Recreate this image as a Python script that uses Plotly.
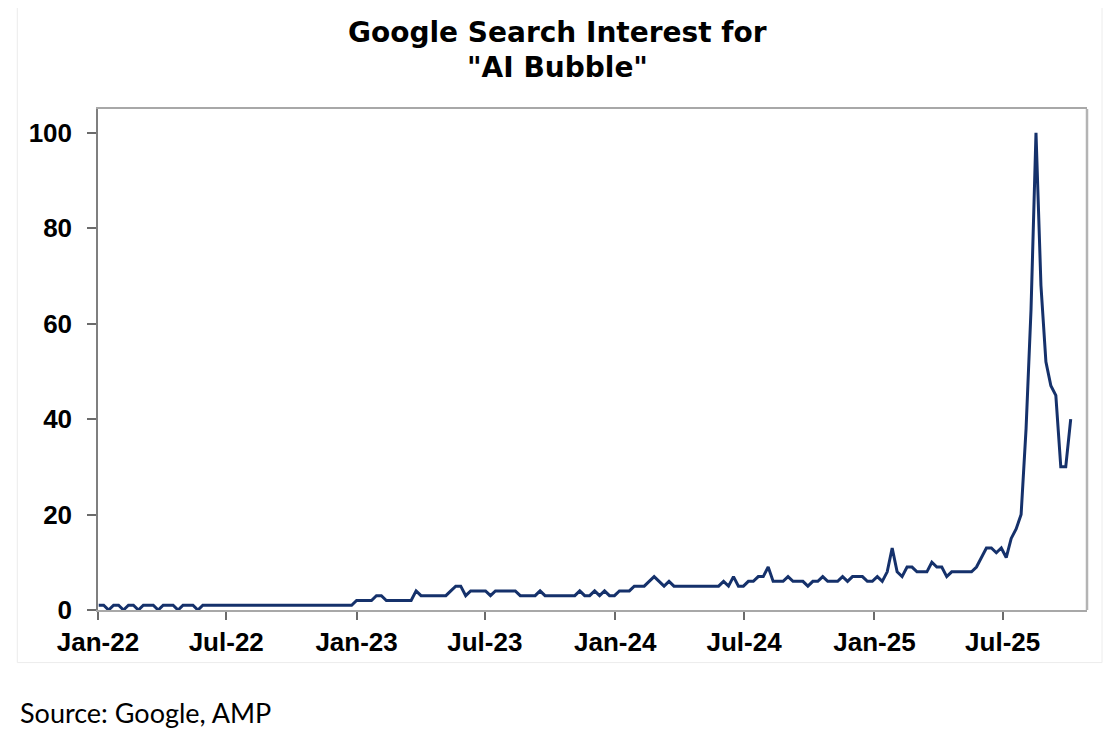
import pandas as pd
import plotly.graph_objects as go

# Weekly Google Trends index for "AI bubble", weeks starting Sunday 2022-01-02
start_week = "2022-01-02"

interest_2022_h1 = [1, 1, 0, 1, 1, 0, 1, 1, 0, 1, 1, 1, 0, 1, 1, 1, 0, 1, 1, 1, 0, 1, 1, 1, 1, 1]
interest_2022_h2 = [1, 1, 1, 1, 1, 1, 1, 1, 1, 1, 1, 1, 1, 1, 1, 1, 1, 1, 1, 1, 1, 1, 1, 1, 1, 1]
interest_2023_h1 = [2, 2, 2, 2, 3, 3, 2, 2, 2, 2, 2, 2, 4, 3, 3, 3, 3, 3, 3, 4, 5, 5, 3, 4, 4, 4]
interest_2023_h2 = [4, 3, 4, 4, 4, 4, 4, 3, 3, 3, 3, 4, 3, 3, 3, 3, 3, 3, 3, 4, 3, 3, 4, 3, 4, 3]
interest_2024_h1 = [3, 4, 4, 4, 5, 5, 5, 6, 7, 6, 5, 6, 5, 5, 5, 5, 5, 5, 5, 5, 5, 5, 6, 5, 7, 5]
interest_2024_h2 = [5, 6, 6, 7, 7, 9, 6, 6, 6, 7, 6, 6, 6, 5, 6, 6, 7, 6, 6, 6, 7, 6, 7, 7, 7, 6]
interest_2025 = [6, 7, 6, 8, 13, 8, 7, 9, 9, 8, 8, 8, 10, 9, 9, 7, 8, 8, 8, 8, 8,
                 9, 11, 13, 13, 12, 13, 11, 15, 17, 20, 38, 63, 100, 68, 52, 47, 45, 30, 30, 40]

interest = (interest_2022_h1 + interest_2022_h2 + interest_2023_h1 + interest_2023_h2
            + interest_2024_h1 + interest_2024_h2 + interest_2025)
weeks = pd.date_range(start_week, periods=len(interest), freq="7D")

tick_dates = ["2022-01-01", "2022-07-01", "2023-01-01", "2023-07-01",
              "2024-01-01", "2024-07-01", "2025-01-01", "2025-07-01"]
tick_labels = ["Jan-22", "Jul-22", "Jan-23", "Jul-23", "Jan-24", "Jul-24", "Jan-25", "Jul-25"]

title_lines = ["Google Search Interest for", '"AI Bubble"']
source_note = "Source: Google, AMP"

LINE = "#15316b"
AXIS_FONT = dict(family="Arial, Liberation Sans, sans-serif", size=26, color="#000000", weight="bold")
TITLE_FONT = dict(family="DejaVu Sans, Arial, sans-serif", size=28, color="#000000", weight="bold")

fig = go.Figure()
fig.add_trace(go.Scatter(
    x=weeks, y=interest, mode="lines",
    line=dict(color=LINE, width=3),
    hoverinfo="x+y", showlegend=False,
))

# the page body adds an 8px margin, so the figure is a bit smaller than the window
fig.update_layout(
    width=1110, height=733,
    margin=dict(l=90, r=31, t=101, b=131),
    paper_bgcolor="white", plot_bgcolor="white",
    xaxis=dict(
        type="date",
        range=["2022-01-01", "2025-10-28"],
        tickvals=tick_dates, ticktext=tick_labels,
        ticks="outside", ticklen=8, tickwidth=1.5, tickcolor="#6b6b6b",
        showline=True, linecolor="#a8a8a8", linewidth=2, mirror=True,
        showgrid=False, zeroline=False,
        tickfont=AXIS_FONT,
    ),
    yaxis=dict(
        range=[0, 105],
        tickvals=[0, 20, 40, 60, 80, 100],
        ticks="outside", ticklen=9, tickwidth=1.5, tickcolor="#6b6b6b",
        showline=True, linecolor="#7f7f7f", linewidth=1.5,
        showgrid=False, zeroline=False,
        tickfont=AXIS_FONT, ticklabelstandoff=10,
    ),
)

# title, two centred lines
for text, ypos in zip(title_lines, [1.1518, 1.0829]):
    fig.add_annotation(
        text=text, xref="paper", yref="paper", x=0.465, y=ypos,
        xanchor="center", yanchor="middle", showarrow=False, font=TITLE_FONT,
    )

# right border of the plot frame, lighter than the left axis
fig.add_shape(type="line", xref="x domain", yref="y domain",
              x0=1, x1=1, y0=0, y1=1, line=dict(color="#b4b4b4", width=2.5))

# faint outer chart box
fig.add_shape(type="rect", xref="paper", yref="paper",
              x0=-0.0816, x1=1.0152, y0=-0.105, y1=1.21,
              line=dict(color="#ececec", width=1), layer="below")

fig.add_annotation(
    text=source_note,
    xref="paper", yref="paper", x=-0.0806, y=-0.205,
    xanchor="left", yanchor="middle", showarrow=False,
    font=dict(family="Lato, Noto Sans, sans-serif", size=27, color="#000000"),
)

fig.write_html("out.html")
